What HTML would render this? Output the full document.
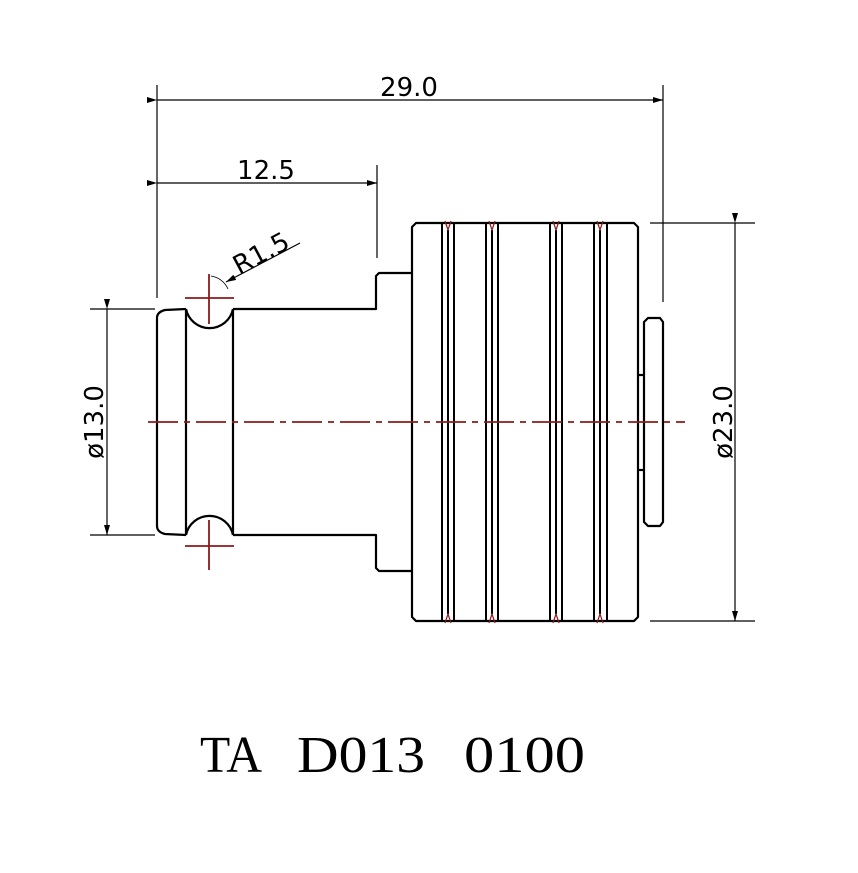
<!DOCTYPE html>
<html><head><meta charset="utf-8"><style>html,body{margin:0;padding:0;background:#fff}svg{display:block}</style></head>
<body>
<svg width="858" height="873" viewBox="0 0 858 873" xmlns="http://www.w3.org/2000/svg">
<defs>
<marker id="a" markerWidth="10" markerHeight="6" refX="10" refY="3" orient="auto" markerUnits="userSpaceOnUse"><path d="M0,0 L10,3 L0,6 z" fill="#000"/></marker>
</defs>
<g fill="none" stroke="#000" stroke-width="1.2">
<line x1="157" y1="85" x2="157" y2="298"/>
<line x1="663" y1="85" x2="663" y2="302"/>
<line x1="157" y1="100" x2="663" y2="100" marker-start="url(#a)" marker-end="url(#a)"/>
<line x1="377" y1="165" x2="377" y2="258"/>
<line x1="157" y1="183" x2="377" y2="183" marker-start="url(#a)" marker-end="url(#a)"/>
<line x1="300" y1="243" x2="226" y2="282" marker-end="url(#a)"/>
<path d="M211,276 A22,22 0 0 1 228,289" stroke-width="0.8"/>
<line x1="90" y1="309" x2="155" y2="309"/>
<line x1="90" y1="535" x2="155" y2="535"/>
<line x1="107" y1="309" x2="107" y2="535" marker-start="url(#a)" marker-end="url(#a)"/>
<line x1="650" y1="223" x2="755" y2="223"/>
<line x1="650" y1="621" x2="755" y2="621"/>
<line x1="735" y1="223" x2="735" y2="621" marker-start="url(#a)" marker-end="url(#a)"/>
</g>
<g fill="none" stroke="#000" stroke-width="2.2" stroke-linejoin="round">
<path d="M186,309 L165,310 Q157,312 157,318 L157,526 Q157,532 165,534 L186,535"/>
<line x1="186" y1="309" x2="186" y2="535"/>
<path d="M186,309 A24,24 0 0 0 233,309"/>
<path d="M186,535 A24,24 0 0 1 233,535"/>
<line x1="233" y1="309" x2="233" y2="535"/>
<path d="M233,309 L376,309 L376,276 L379,273 L412,273"/>
<path d="M233,535 L376,535 L376,568 L379,571 L412,571"/>
<path d="M412,273 L412,227 L416,223 L634,223 L638,227 L638,617 L634,621 L416,621 L412,617 Z"/>
<g stroke-width="2">
<line x1="442" y1="223" x2="442" y2="621"/><line x1="448" y1="230" x2="448" y2="614"/><line x1="454" y1="223" x2="454" y2="621"/>
<line x1="486" y1="223" x2="486" y2="621"/><line x1="492" y1="230" x2="492" y2="614"/><line x1="498" y1="223" x2="498" y2="621"/>
<line x1="550" y1="223" x2="550" y2="621"/><line x1="556" y1="230" x2="556" y2="614"/><line x1="562" y1="223" x2="562" y2="621"/>
<line x1="594" y1="223" x2="594" y2="621"/><line x1="600" y1="230" x2="600" y2="614"/><line x1="607" y1="223" x2="607" y2="621"/>
</g>
<path d="M648,318 L660,318 L663,322 L663,522 L660,526 L648,526 L644,522 L644,322 Z"/>
<line x1="638" y1="375" x2="644" y2="375"/>
<line x1="638" y1="470" x2="644" y2="470"/>
</g>
<g stroke="#8b1a1a" stroke-width="1.8" fill="none">
<line x1="148" y1="422" x2="685" y2="422" stroke-dasharray="30,6,6,6"/>
<line x1="185" y1="298" x2="234" y2="298"/><line x1="209" y1="274" x2="209" y2="324"/>
<line x1="185" y1="546" x2="234" y2="546"/><line x1="209" y1="520" x2="209" y2="570"/>
<path d="M445,221 L448,230 L451,221 M489,221 L492,230 L495,221 M553,221 L556,230 L559,221 M597,221 L600,230 L603,221" stroke-width="1.2"/>
<path d="M445,623 L448,614 L451,623 M489,623 L492,614 L495,623 M553,623 L556,614 L559,623 M597,623 L600,614 L603,623" stroke-width="1.2"/>
</g>
<g font-family="'DejaVu Sans','Liberation Sans',sans-serif" font-size="26" fill="#000">
<text x="409" y="96" text-anchor="middle">29.0</text>
<text x="266" y="179" text-anchor="middle">12.5</text>
<text x="0" y="0" transform="translate(239,275) rotate(-28)">R1.5</text>
<text x="0" y="0" text-anchor="middle" transform="translate(103,422) rotate(-90)">ø13.0</text>
<text x="0" y="0" text-anchor="middle" transform="translate(732,422) rotate(-90)">ø23.0</text>
</g>
<g font-family="'Liberation Serif',serif" font-size="52" fill="#000" lengthAdjust="spacingAndGlyphs">
<text x="200" y="772" textLength="62" lengthAdjust="spacingAndGlyphs">TA</text>
<text x="297" y="772" textLength="128" lengthAdjust="spacingAndGlyphs">D013</text>
<text x="464" y="772" textLength="121" lengthAdjust="spacingAndGlyphs">0100</text>
</g>
</svg>
</body></html>
